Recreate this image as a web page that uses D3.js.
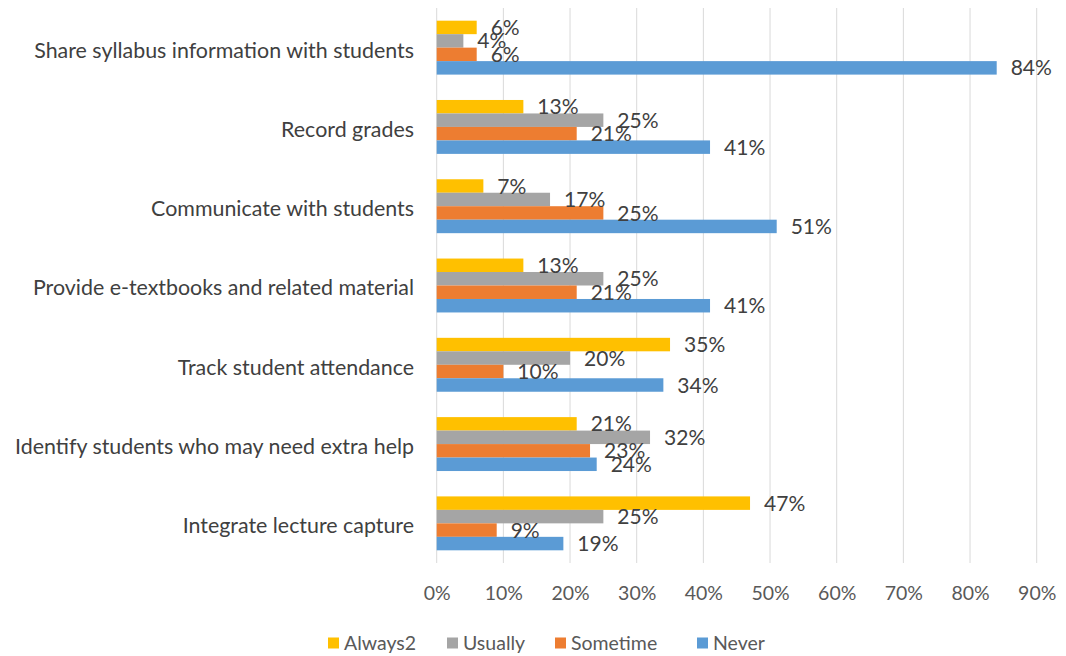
<!DOCTYPE html>
<html><head><meta charset="utf-8">
<script src="https://cdn.jsdelivr.net/npm/d3@7"></script>
<style>body{margin:0;background:#fff}svg text{font-family:Lato,"Open Sans",sans-serif;fill:#404040}</style>
</head><body>
<svg id="c" width="1066" height="656"></svg>
<script>
const categories = ["Share syllabus information with students","Record grades","Communicate with students","Provide e-textbooks and related material","Track student attendance","Identify students who may need extra help","Integrate lecture capture"];
const seriesNames = ["Always2","Usually","Sometime","Never"];
const always2 = [6,13,7,13,35,21,47];
const usually = [4,25,17,25,20,32,25];
const sometime = [6,21,25,21,10,23,9];
const never = [84,41,51,41,34,24,19];
const xTicks = [0,10,20,30,40,50,60,70,80,90];
const colors = ["#FFC000","#A5A5A5","#ED7D31","#5B9BD5"];
const seriesValues = [always2, usually, sometime, never];

(function(){
const svg = d3.select("#c");
const pLeft = 436.7, pRight = 1036.7, pTop = 8, pBottom = 563;
const x = d3.scaleLinear().domain([0,90]).range([pLeft,pRight]);
const y = d3.scaleBand().domain(categories).range([pTop,pBottom]).paddingInner(0.32).paddingOuter(0.16);
const y1 = d3.scaleBand().domain(seriesNames).range([0,y.bandwidth()]);
const ff = "Lato,'Open Sans',sans-serif";

svg.append("g").selectAll("line").data(xTicks).join("line")
  .attr("x1",d=>x(d)).attr("x2",d=>x(d)).attr("y1",pTop).attr("y2",pBottom)
  .attr("stroke","#D9D9D9").attr("stroke-width",1);

const xAxis = d3.axisBottom(x).tickValues(xTicks).tickFormat(d=>d+"%").tickSize(0).tickPadding(0);
const gx = svg.append("g").attr("transform",`translate(0,${pBottom+22})`).call(xAxis);
gx.select(".domain").remove();
gx.selectAll("text").attr("font-size",19.5).attr("dy","0.75em").style("font-family",ff).style("fill","#595959");

const yAxis = d3.axisLeft(y).tickSize(0).tickPadding(0);
const gy = svg.append("g").attr("transform",`translate(414,3)`).call(yAxis);
gy.select(".domain").remove();
gy.selectAll("text").attr("font-size",21.4).style("font-family",ff).style("fill","#404040");

const groups = svg.append("g").selectAll("g").data(categories).join("g")
  .attr("transform",d=>`translate(0,${y(d)})`);
seriesNames.forEach((s,si)=>{
  groups.append("rect")
    .attr("x",x(0)).attr("y",y1(s))
    .attr("width",(d,i)=>x(seriesValues[si][i])-x(0))
    .attr("height",y1.bandwidth())
    .attr("fill",colors[si]);
});
seriesNames.forEach((s,si)=>{
  groups.append("text")
    .attr("x",(d,i)=>x(seriesValues[si][i])+14)
    .attr("y",y1(s)+y1.bandwidth()/2)
    .attr("dy","0.36em")
    .attr("font-size",21)
    .text((d,i)=>seriesValues[si][i]+"%");
});

const legX = [328,447,555,697];
const lg = svg.append("g").selectAll("g").data(seriesNames).join("g")
  .attr("transform",(d,i)=>`translate(${legX[i]},643)`);
lg.append("rect").attr("x",0).attr("y",-5.5).attr("width",11).attr("height",11).attr("fill",(d,i)=>colors[i]);
lg.append("text").attr("x",16).attr("dy","0.36em").attr("font-size",19.5).style("fill","#595959").text(d=>d);
})();
</script>
</body></html>
